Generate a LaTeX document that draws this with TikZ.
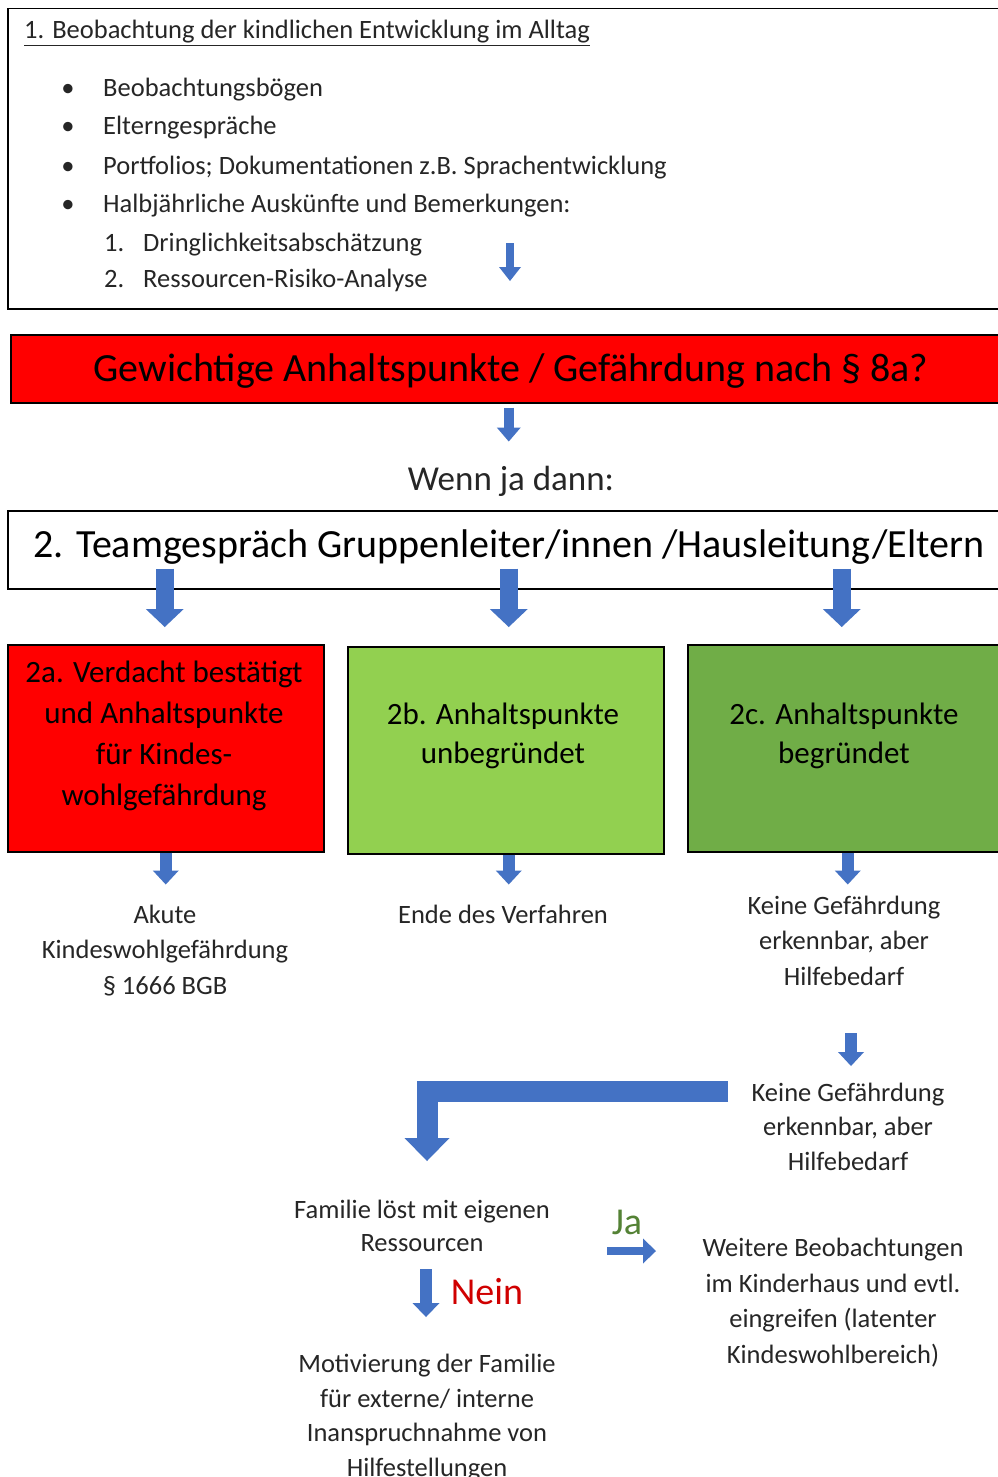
\documentclass[tikz,border=0pt]{standalone}
\usepackage{fontspec}
\setmainfont{Carlito}
\usetikzlibrary{arrows.meta}

\definecolor{pfeilblau}{HTML}{4472C4}
\definecolor{rot}{HTML}{FF0000}
\definecolor{hellgruen}{HTML}{92D050}
\definecolor{gruen}{HTML}{70AD47}
\definecolor{jagruen}{HTML}{548235}
\definecolor{neinrot}{HTML}{D00000}
\definecolor{schrift}{HTML}{262626}

\begin{document}
\begin{tikzpicture}[x=1pt, y=-1pt,
    kasten/.style={draw=black, line width=1.5pt, anchor=north west, inner sep=0pt},
    klein/.style={font=\fontsize{26.5}{35.5}\selectfont, text=schrift, align=center, anchor=base, inner sep=0pt},
    liste/.style={font=\fontsize{26.5}{35.5}\selectfont, text=schrift, anchor=base west, inner sep=0pt},
    kastentext/.style={font=\fontsize{31}{41}\selectfont, text=black, align=center, anchor=base, inner sep=0pt},
    gross/.style={font=\fontsize{40}{48}\selectfont, text=black, anchor=base, inner sep=0pt},
    pfeil/.style n args={3}{draw=pfeilblau, line width=#1, -{Triangle[width=#2, length=#3, line width=0pt, fill=pfeilblau]}}]
    \useasboundingbox (0,0) rectangle (998,1477);
    \clip (0,0) rectangle (998,1477);
    \fill[white] (0,0) rectangle (998,1477);

    % Kaesten
    \node[kasten, minimum width=993pt, minimum height=300pt] (beob) at (7,8) {};
    \node[kasten, fill=rot, minimum width=993pt, minimum height=68pt] (kopf) at (10,334) {};
    \node[kasten, minimum width=996pt, minimum height=78pt] (team) at (7,510) {};
    \node[kasten, fill=rot, minimum width=316pt, minimum height=207pt] (box2a) at (7,644) {};
    \node[kasten, fill=hellgruen, minimum width=316pt, minimum height=207pt] (box2b) at (347,646) {};
    \node[kasten, fill=gruen, minimum width=316pt, minimum height=207pt] (box2c) at (687,644) {};

    % Beobachtung
    \node[liste] (titel) at (24,39) {\underline{1. Beobachtung der kindlichen Entwicklung im Alltag}};
    \foreach \y/\t in {97/Beobachtungsbögen, 135/Elterngespräche, 174/{Portfolios; Dokumentationen z.B. Sprachentwicklung}, 212/{Halbjährliche Auskünfte und Bemerkungen:}} {
        \node[liste, anchor=base] (p\y) at (68,\y) {•};
        \node[liste] (t\y) at (103,\y) {\t};
    }
    \foreach \n/\y/\t in {1/251/Dringlichkeitsabschätzung, 2/287/Ressourcen-Risiko-Analyse} {
        \node[liste] (n\n) at (104,\y) {\n.};
        \node[liste] (u\n) at (143,\y) {\t};
    }

    \node[gross] (kopftext) at (511,381) {Gewichtige Anhaltspunkte / Gefährdung nach § 8a?};
    \node[klein, font=\fontsize{35}{42}\selectfont] (wenn) at (511,490) {Wenn ja dann:};
    \node[gross] (teamtext) at (509,557) {2. Teamgespräch Gruppenleiter/innen /Hausleitung/Eltern};

    % Texte (Anker auf der letzten Zeile)
    \node[kastentext] (t2a) at (164,805) {2a. Verdacht bestätigt\\und Anhaltspunkte\\für Kindes-\\wohlgefährdung};
    \node[kastentext, font=\fontsize{31}{39}\selectfont] (t2b) at (503,763) {2b. Anhaltspunkte\\unbegründet};
    \node[kastentext, font=\fontsize{31}{39}\selectfont] (t2c) at (844,763) {2c. Anhaltspunkte\\begründet};

    \node[klein] (akut) at (165,994) {Akute\\Kindeswohlgefährdung\\§ 1666 BGB};
    \node[klein] (ende) at (503,923) {Ende des Verfahren};
    \node[klein] (hilfe1) at (844,985) {Keine Gefährdung\\erkennbar, aber\\Hilfebedarf};
    \node[klein, font=\fontsize{26.5}{34.5}\selectfont] (hilfe2) at (848,1170) {Keine Gefährdung\\erkennbar, aber\\Hilfebedarf};
    \node[klein, font=\fontsize{26.5}{33}\selectfont] (familie) at (422,1251) {Familie löst mit eigenen\\Ressourcen};
    \node[klein] (weitere) at (833,1363) {Weitere Beobachtungen\\im Kinderhaus und evtl.\\eingreifen (latenter\\Kindeswohlbereich)};
    \node[klein, font=\fontsize{26.5}{34.5}\selectfont] (motiv) at (427,1476) {Motivierung der Familie\\für externe/ interne\\Inanspruchnahme von\\Hilfestellungen};
    \node[klein, font=\fontsize{38}{44}\selectfont, text=jagruen] (ja) at (627,1234) {Ja};
    \node[klein, font=\fontsize{38}{44}\selectfont, text=neinrot] (nein) at (487,1304) {Nein};

    % Pfeile
    \coordinate (a0s) at (510,243);
    \coordinate (a0e) at (510,281);
    \coordinate (a5s) at (851,1033);
    \coordinate (a5e) at (851,1066);
    \coordinate (knickanf) at (728,1091);
    \coordinate (knick) at (427,1091);
    \coordinate (knickend) at (427,1161);
    \coordinate (jas) at (607,1251);
    \coordinate (jae) at (656,1251);
    \coordinate (neins) at (426,1269);
    \coordinate (neine) at (426,1317);

    \draw[pfeil={8pt}{22pt}{14pt}] (a0s) -- (a0e);
    \draw[pfeil={10pt}{24pt}{14pt}] ([xshift=1.5pt,yshift=-4pt]kopf.south) -- ([xshift=1.5pt,yshift=-38pt]kopf.south);
    \draw[pfeil={18pt}{38pt}{18pt}] ([xshift=-1pt,yshift=21pt]team.south -| box2a.north) -- ([xshift=-1pt,yshift=17pt]box2a.north);
    \draw[pfeil={18pt}{38pt}{18pt}] ([xshift=3pt,yshift=21pt]team.south -| box2b.north) -- ([xshift=3pt,yshift=19pt]box2b.north);
    \draw[pfeil={18pt}{38pt}{18pt}] ([xshift=-4pt,yshift=21pt]team.south -| box2c.north) -- ([xshift=-4pt,yshift=17pt]box2c.north);
    \draw[pfeil={12pt}{26pt}{14pt}] (box2a.south) -- ([yshift=-32pt]box2a.south);
    \draw[pfeil={12pt}{26pt}{14pt}] ([xshift=3pt]box2b.south) -- ([xshift=3pt,yshift=-30pt]box2b.south);
    \draw[pfeil={12pt}{26pt}{14pt}] ([xshift=2pt]box2c.south) -- ([xshift=2pt,yshift=-32pt]box2c.south);
    \draw[pfeil={12pt}{26pt}{14pt}] (a5s) -- (a5e);
    \draw[pfeil={21pt}{45pt}{23pt}, line join=miter] (knickanf) -- (knick) -- (knickend);
    \draw[pfeil={8pt}{25pt}{13pt}] (jas) -- (jae);
    \draw[pfeil={12pt}{27pt}{14pt}] (neins) -- (neine);
\end{tikzpicture}
\end{document}
